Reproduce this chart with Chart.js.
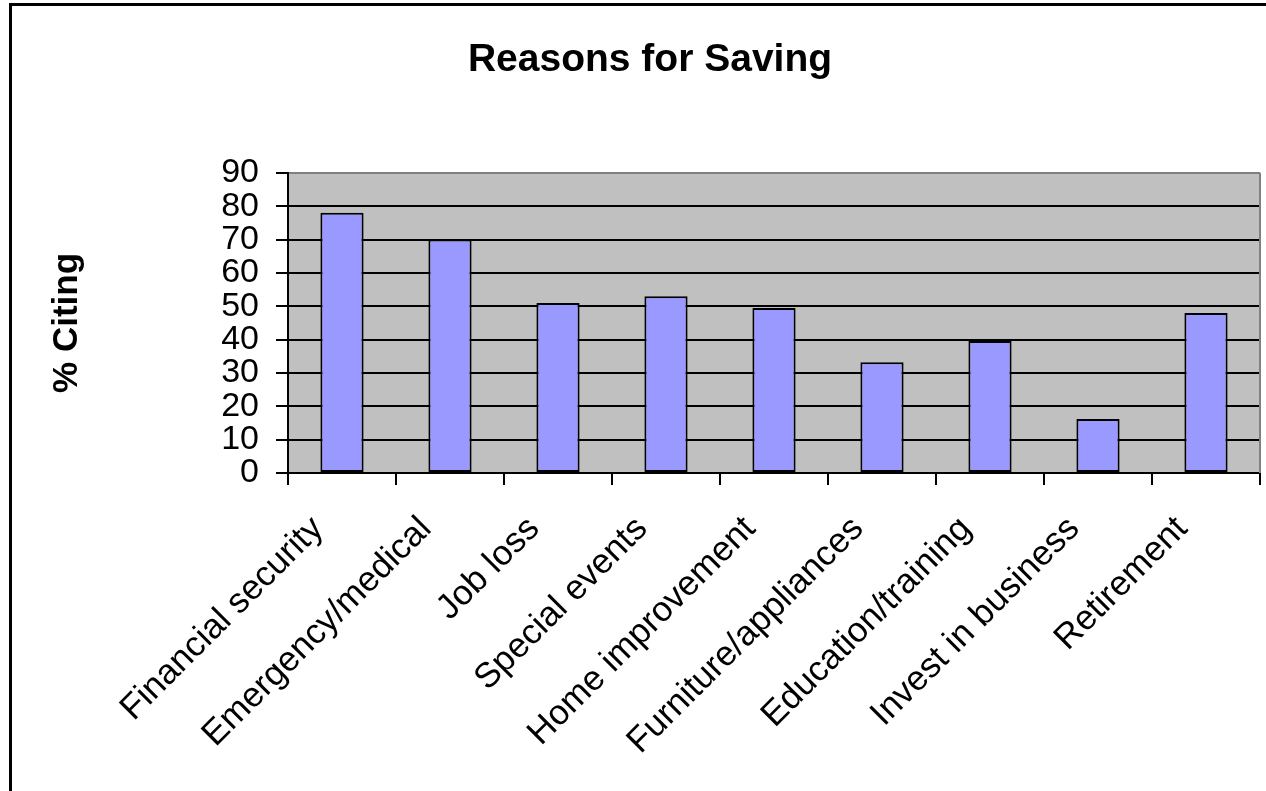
<!DOCTYPE html>
<html><head><meta charset="utf-8">
<script src="https://cdn.jsdelivr.net/npm/chart.js@4/dist/chart.umd.min.js"></script>
<style>
html,body{margin:0;padding:0;background:#fff;overflow:hidden}
#wrap{position:relative;width:1266px;height:791px;overflow:hidden}
canvas{position:absolute;left:0;top:0}
#frame{position:absolute;left:9px;top:3px;width:1400px;height:1000px;border:3px solid #000;box-sizing:border-box;pointer-events:none}
</style></head><body>
<div id="wrap"><canvas id="c" width="1266" height="791"></canvas><div id="frame"></div></div>
<script>
const categories = ['Financial security','Emergency/medical','Job loss','Special events','Home improvement','Furniture/appliances','Education/training','Invest in business','Retirement'];
const percentCiting = [78, 70, 51, 53, 49.5, 33.2, 39.6, 16.2, 48];
const yMin = 0, yMax = 90, yStep = 10;
const chartTitle = 'Reasons for Saving';
const yAxisTitle = '% Citing';

const FONT = "'Liberation Sans', Arial, Helvetica, sans-serif";

const plotBg = {
  id: 'plotBg',
  beforeDraw(chart) {
    const {ctx, chartArea: {left, top, right, bottom}} = chart;
    ctx.save();
    ctx.fillStyle = '#C0C0C0';
    ctx.fillRect(left, top, right - left, bottom - top);
    ctx.restore();
  },
  afterDraw(chart) {
    const {ctx, chartArea: {top, right, bottom}} = chart;
    ctx.save();
    ctx.strokeStyle = '#808080';
    ctx.lineWidth = 2;
    ctx.beginPath();
    ctx.moveTo(right, top);
    ctx.lineTo(right, bottom);
    ctx.stroke();
    ctx.restore();
  }
};

new Chart(document.getElementById('c'), {
  type: 'bar',
  data: {
    labels: categories,
    datasets: [{
      data: percentCiting,
      backgroundColor: '#9999FF',
      borderColor: '#000000',
      borderWidth: 2,
      borderSkipped: false,
      barPercentage: 0.4,
      categoryPercentage: 1.0
    }]
  },
  options: {
    responsive: false,
    animation: false,
    devicePixelRatio: 1,
    layout: { padding: { left: 40, right: 6, top: 0, bottom: 0 } },
    plugins: {
      legend: { display: false },
      tooltip: { enabled: false },
      title: {
        display: true,
        text: chartTitle,
        color: '#000',
        font: { family: FONT, size: 39, weight: 'bold', lineHeight: 1.2 },
        padding: { top: 37, bottom: 89 }
      }
    },
    scales: {
      x: {
        offset: true,
        grid: { offset: true, drawOnChartArea: false, drawTicks: true, tickLength: 12, color: '#000', lineWidth: 2 },
        border: { display: true, color: '#000', width: 2 },
        ticks: {
          autoSkip: false, maxRotation: 45, minRotation: 45,
          padding: 26, labelOffset: -24, color: '#000',
          font: { family: FONT, size: 35, lineHeight: 1 }
        },
        afterFit(s) { s.height = 318; }
      },
      y: {
        min: yMin, max: yMax,
        grid: {
          color: (c) => (c.tick && c.tick.value === yMax) ? '#808080' : '#000',
          lineWidth: 2, tickLength: 12, tickColor: '#000', drawTicks: true
        },
        border: { display: true, color: '#000', width: 2 },
        ticks: {
          stepSize: yStep, autoSkip: false, padding: 17, color: '#000',
          font: { family: FONT, size: 34, lineHeight: 1 }
        },
        title: {
          display: true, text: yAxisTitle, color: '#000',
          font: { family: FONT, size: 35, weight: 'bold', lineHeight: 1.2 },
          padding: { top: 6, bottom: 0 }
        },
        afterFit(s) { s.width = 248; }
      }
    }
  },
  plugins: [plotBg]
});
</script>
</body></html>
